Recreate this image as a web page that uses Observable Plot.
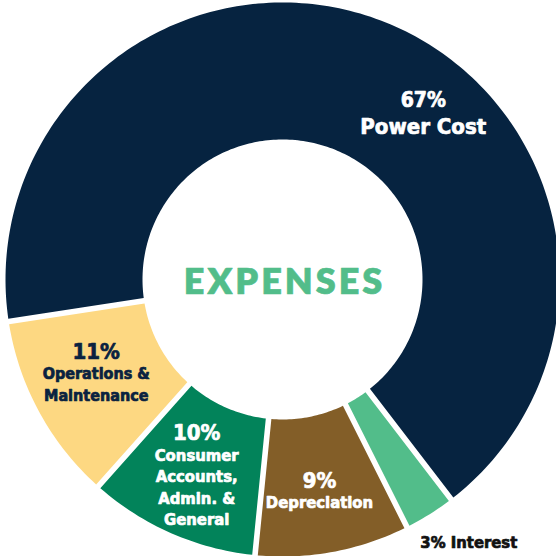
<!DOCTYPE html>
<html><head><meta charset="utf-8">
<script src="https://cdn.jsdelivr.net/npm/d3@7"></script>
<script src="https://cdn.jsdelivr.net/npm/@observablehq/plot@0.6"></script>
<style>body{margin:0;background:#fff;overflow:hidden}</style>
</head><body><div id="chart"></div>
<script>
// ---- data ----
const categories = ["Interest", "Depreciation", "Consumer Accounts, Admin. & General", "Operations & Maintenance", "Power Cost"];
const values = [3, 9, 10, 11, 67];
const nameLines = ["Interest", "Depreciation", "Consumer\nAccounts,\nAdmin. &\nGeneral", "Operations &\nMaintenance", "Power Cost"];
const colors = ["#52bd8a", "#835e28", "#02835a", "#fdd882", "#062340"];
const centerTitle = "EXPENSES";

// ---- layout ----
const W = 556, H = 556, cx = 282, cy = 279, R = 277, r = 140, gap = 2.8, startDeg = 142.5;
const labelNudge = [[0, 0], [-1, -4], [-2, -37], [-3, -27], [63, 14]]; // px offsets from centroid
const labelInk = ["#111", "#fff", "#fff", "#0a2240", "#fff"];
const labelFont = "'Liberation Sans Narrow', 'DejaVu Sans Condensed', sans-serif";

const total = d3.sum(values);
let acc = startDeg * Math.PI / 180;
const slices = values.map((v, i) => {
  const a0 = acc, a1 = acc + v / total * 2 * Math.PI; acc = a1;
  return {i, name: categories[i], value: v, a0, a1};
});
const pts = [];
for (const s of slices) {
  const n = Math.max(10, Math.round(160 * (s.a1 - s.a0) / Math.PI));
  const o0 = s.a0 + Math.asin(gap / R), o1 = s.a1 - Math.asin(gap / R);
  const i0 = s.a0 + Math.asin(gap / r), i1 = s.a1 - Math.asin(gap / r);
  for (let k = 0; k <= n; k++) { const a = o0 + (o1 - o0) * k / n; pts.push({name: s.name, x: R * Math.sin(a), y: -R * Math.cos(a)}); }
  for (let k = n; k >= 0; k--) { const a = i0 + (i1 - i0) * k / n; pts.push({name: s.name, x: r * Math.sin(a), y: -r * Math.cos(a)}); }
}
const rm = (R + r) / 2;
const labels = slices.map(s => {
  const m = (s.a0 + s.a1) / 2;
  return {
    i: s.i,
    pct: s.value + "%",
    name: nameLines[s.i],
    ink: labelInk[s.i],
    x: rm * Math.sin(m) + labelNudge[s.i][0],
    y: -rm * Math.cos(m) + labelNudge[s.i][1]
  };
});
// Interest label sits outside the ring
const outer = labels[0];
{
  const s = slices[0], m = (s.a0 + s.a1) / 2, ro = R + 36;
  outer.x = ro * Math.sin(m) + 20; outer.y = -ro * Math.cos(m) - 2;
}
const inner = labels.filter(d => d.i !== 0);
const heavy = {fontWeight: 900, fontFamily: labelFont, textAnchor: "middle", strokeWidth: 0.7};

const chart = Plot.plot({
  width: W, height: H, margin: 0,
  x: {domain: [-cx, W - cx], range: [0, W], axis: null},
  y: {domain: [-cy, H - cy], range: [0, H], axis: null},
  color: {domain: categories, range: colors},
  marks: [
    Plot.line(pts, {x: "x", y: "y", z: "name", fill: "name", stroke: "none", curve: "linear"}),
    // percentages
    Plot.text(inner.filter(d => d.ink === "#fff"), {...heavy, x: "x", y: "y", text: "pct", fill: "#fff", stroke: "#fff", fontSize: d => d.i === 4 ? 21 : 22, lineAnchor: "middle"}),
    Plot.text(inner.filter(d => d.ink !== "#fff"), {...heavy, x: "x", y: "y", text: "pct", fill: "#0a2240", stroke: "#0a2240", fontSize: 22, lineAnchor: "middle"}),
    // names
    Plot.text(inner.filter(d => d.ink === "#fff"), {...heavy, x: "x", y: d => d.y + (d.i === 4 ? 14 : 12), text: "name", fill: "#fff", stroke: "#fff", fontSize: d => d.i === 4 ? 22 : 16.5, lineHeight: 1.3, lineAnchor: "top"}),
    Plot.text(inner.filter(d => d.ink !== "#fff"), {...heavy, x: "x", y: d => d.y + 12, text: "name", fill: "#0a2240", stroke: "#0a2240", fontSize: 16, lineHeight: 1.36, lineAnchor: "top"}),
    // outside label
    Plot.text([outer], {...heavy, x: "x", y: "y", text: d => d.pct + " " + d.name, fill: "#111", stroke: "#111", fontSize: 16.5, lineAnchor: "middle"}),
    // center title
    Plot.text([centerTitle], {x: () => 2, y: () => 3, text: d => d, fill: "#52bd8a", stroke: "#52bd8a", strokeWidth: 0.6, fontSize: 36, fontWeight: 800, fontFamily: "Lato, 'Open Sans', sans-serif", textAnchor: "middle", lineAnchor: "middle"})
  ]
});
document.getElementById("chart").appendChild(chart);
d3.select(chart).selectAll("text").filter(function() { return this.textContent === centerTitle; }).style("letter-spacing", "3px");
</script>
</body></html>
